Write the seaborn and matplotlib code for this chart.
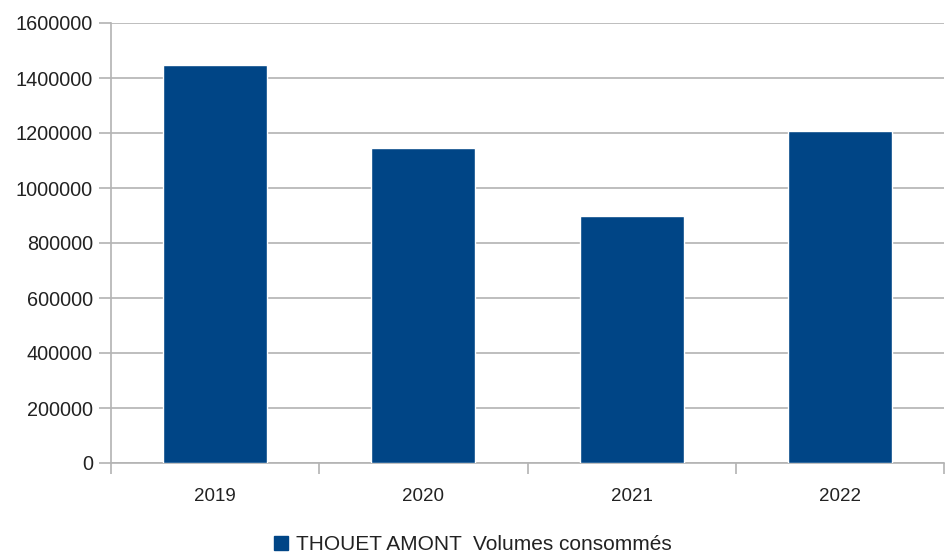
# Bar chart: THOUET AMONT, volumes consumed per year

import matplotlib
matplotlib.use("Agg")

import matplotlib.pyplot as plt
import matplotlib.patches as mpatches
import numpy as np
import pandas as pd
import seaborn as sns

years = ["2019", "2020", "2021", "2022"]
volumes = [1448000, 1145000, 898000, 1207000]
seriesName = "THOUET AMONT  Volumes consommés"

barColor = "#004586"
gridColor = "#b3b3b3"

sns.set_theme(style="white")
plt.rcParams["font.family"] = ["Liberation Sans", "DejaVu Sans"]

df = pd.DataFrame({"year": years, "volume": volumes})

fig = plt.figure(figsize=(9.46, 5.58), dpi=100)
ax = fig.add_axes([111 / 946, 1 - 463 / 558, 833 / 946, 440 / 558])

sns.barplot(data=df, x="year", y="volume", color=barColor, saturation=1,
            width=0.5, ax=ax, zorder=3)

ax.set_ylim(0, 1600000)
ax.set_xlim(-0.5, len(years) - 0.5)
ax.set_yticks(np.arange(0, 1600001, 200000))
ax.set_yticklabels([str(v) for v in range(0, 1600001, 200000)])
ax.yaxis.grid(True, color=gridColor, linewidth=1.2, zorder=0)
ax.set_xlabel("")
ax.set_ylabel("")

# tick marks between categories, labels under the bars
ax.set_xticks(np.arange(-0.5, len(years)), minor=True)
ax.tick_params(axis="x", which="major", length=0, pad=18, labelsize=13.5,
               colors="#222222")
ax.tick_params(axis="x", which="minor", length=8, width=1.2, color=gridColor,
               bottom=True)
ax.tick_params(axis="y", length=9, width=1.2, color=gridColor, pad=4,
               labelsize=14.3, labelcolor="#222222", left=True)

for side in ["top", "right"]:
    ax.spines[side].set_visible(False)
for side in ["left", "bottom"]:
    ax.spines[side].set_color(gridColor)
    ax.spines[side].set_linewidth(1.2)

handle = mpatches.Patch(color=barColor, label=seriesName)
fig.legend(handles=[handle], loc="center", bbox_to_anchor=(0.5, 1 - 545 / 558),
           frameon=False, fontsize=15, handlelength=0.68, handleheight=0.68,
           handletextpad=0.4, labelcolor="#222222")

fig.savefig("out.png", dpi=100)
plt.close(fig)
